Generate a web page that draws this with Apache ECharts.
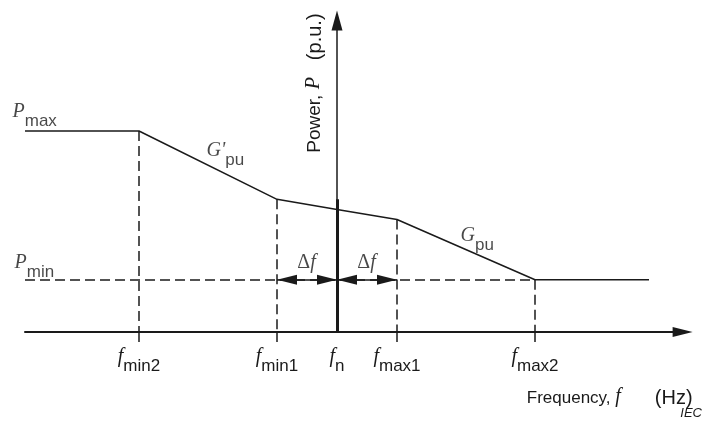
<!DOCTYPE html>
<html><head><meta charset="utf-8">
<script src="https://cdn.jsdelivr.net/npm/echarts@6/dist/echarts.min.js"></script>
<style>html,body{margin:0;padding:0;background:#fff}#c{width:705px;height:421px}</style>
</head><body><div id="c"></div>
<script>
// Frequencies expressed in units of the dead-band Δf, relative to f_n
const tickNames = ['min2', 'min1', 'n', 'max1', 'max2'];
const tickFreqs = [-3.3, -1, 0, 1, 3.3];
// Power characteristic (p.u.)
const curveFreqs = [-5.2, -3.3, -1, 0, 1, 3.3, 5.2];
const curvePowers = [1.0, 1.0, 0.66, 0.61, 0.56, 0.26, 0.26];
const pMax = 1.0;
const pMin = 0.26;
const fnMarkerTop = 0.66;
const xRange = [-5.2, 5.76];
const yRange = [0, 1.55];

const C = '#1a1a1a';
const SANS = '"Liberation Sans", Arial, sans-serif';
const SERIF = '"Liberation Serif", "Times New Roman", serif';

const rich = {
  v: {fontFamily: SERIF, fontStyle: 'italic', fontSize: 20, lineHeight: 22, verticalAlign: 'top', color: C},
  s: {fontFamily: SANS, fontSize: 17, lineHeight: 17, padding: [11, 0, 0, 0], verticalAlign: 'top', color: C},
  d: {fontFamily: SERIF, fontSize: 20, lineHeight: 22, verticalAlign: 'top', color: C},
  a: {fontFamily: SANS, fontSize: 17, lineHeight: 22, color: C},
  ay: {fontFamily: SANS, fontSize: 19, lineHeight: 22, color: C},
  ux: {fontFamily: SANS, fontSize: 20, lineHeight: 22, padding: [0, 0, 0, 34], color: C},
  uy: {fontFamily: SANS, fontSize: 20, lineHeight: 22, padding: [0, 0, 0, 17], color: C}
};

const powerAt = f => curvePowers[curveFreqs.indexOf(f)];
const dashSegments = [[[curveFreqs[0], pMin], [tickFreqs[4], pMin]]];
tickFreqs.forEach(f => { if (f !== 0) dashSegments.push([[f, powerAt(f)], [f, 0]]); });

const mid = (i) => [(curveFreqs[i] + curveFreqs[i + 1]) / 2, (curvePowers[i] + curvePowers[i + 1]) / 2];

const annotations = [
  {value: [curveFreqs[0], pMax], label: {formatter: '{v|P}{s|max}', offset: [-12, -29]}},
  {value: [curveFreqs[0], pMin], label: {formatter: '{v|P}{s|min}', offset: [-10, -26]}},
  {value: mid(1), label: {formatter: "{v|G'}{s|pu}", offset: [-1, -23.5]}},
  {value: mid(4), label: {formatter: '{v|G}{s|pu}', offset: [-5, -23]}},
  {value: [(tickFreqs[1] + tickFreqs[2]) / 2, pMin], label: {formatter: '{d|Δ}{v|f}', align: 'center', verticalAlign: 'bottom', offset: [0, -4]}},
  {value: [(tickFreqs[2] + tickFreqs[3]) / 2, pMin], label: {formatter: '{d|Δ}{v|f}', align: 'center', verticalAlign: 'bottom', offset: [0, -4]}}
];

const arrowEnd = (coord) => ({coord: coord, symbol: 'triangle', symbolSize: [10, 20], symbolOffset: [0, 10]});

const chart = echarts.init(document.getElementById('c'), null, {renderer: 'canvas'});
chart.setOption({
  animation: false,
  backgroundColor: '#fff',
  textStyle: {fontFamily: SANS, color: C},
  title: {
    text: 'IEC', right: 3, bottom: 1, padding: 0,
    textStyle: {fontFamily: SANS, fontStyle: 'italic', fontWeight: 'normal', fontSize: 13, color: C}
  },
  grid: {left: 25, right: 22.4, top: 20.45, bottom: 89, containLabel: false},
  xAxis: {
    type: 'value', min: xRange[0], max: xRange[1],
    axisLine: {show: true, onZero: true, symbol: ['none', 'triangle'], symbolSize: [10, 20], lineStyle: {color: C, width: 2}},
    axisTick: {show: true, customValues: tickFreqs.filter(f => f !== 0), length: 10, inside: false, lineStyle: {color: C, width: 1.5}},
    axisLabel: {
      show: true, customValues: tickFreqs, margin: 15, rich: rich,
      formatter: (val) => {
        const i = tickFreqs.findIndex(f => Math.abs(f - val) < 1e-6);
        return i < 0 ? '' : '{v|f}{s|' + tickNames[i] + '}';
      }
    },
    splitLine: {show: false},
    name: '{a|Frequency, }{v|f}{ux|(Hz)}', nameLocation: 'end', nameGap: 10, nameMoveOverlap: false,
    nameTextStyle: {align: 'right', verticalAlign: 'top', padding: [55, 0, 0, 0], rich: rich}
  },
  yAxis: {
    type: 'value', min: yRange[0], max: yRange[1],
    axisLine: {show: true, onZero: true, symbol: ['none', 'triangle'], symbolSize: [11, 20], lineStyle: {color: C, width: 1.5}},
    axisTick: {show: false}, axisLabel: {show: false}, splitLine: {show: false},
    name: '{ay|Power, }{v|P}{uy|(p.u.)}', nameLocation: 'end', nameGap: 7, nameRotate: 90, nameMoveOverlap: false,
    nameTextStyle: {align: 'right', verticalAlign: 'bottom', padding: [0, 0, 11, 0], rich: rich}
  },
  series: [
    {
      type: 'lines', coordinateSystem: 'cartesian2d', silent: true, z: 2,
      data: dashSegments.map(s => ({coords: s})),
      lineStyle: {color: C, width: 1.5, type: [10, 5], opacity: 1}
    },
    {
      type: 'lines', coordinateSystem: 'cartesian2d', silent: true, z: 4,
      data: [{coords: [[tickFreqs[2], 0], [tickFreqs[2], fnMarkerTop]]}],
      lineStyle: {color: C, width: 3, opacity: 1}
    },
    {
      type: 'line', silent: true, symbol: 'none', clip: false, z: 3,
      data: curveFreqs.map((f, i) => [f, curvePowers[i]]),
      lineStyle: {color: C, width: 1.5},
      markLine: {
        silent: true, animation: false,
        symbol: ['triangle', 'triangle'],
        label: {show: false},
        lineStyle: {color: C, width: 1.5, type: 'solid'},
        emphasis: {disabled: true},
        data: [
          [arrowEnd([tickFreqs[1], pMin]), arrowEnd([tickFreqs[2], pMin])],
          [arrowEnd([tickFreqs[2], pMin]), arrowEnd([tickFreqs[3], pMin])]
        ]
      }
    },
    {
      type: 'scatter', silent: true, clip: false, symbolSize: 1, z: 5,
      itemStyle: {color: 'rgba(0,0,0,0)'},
      label: {show: true, position: [0, 0], align: 'left', verticalAlign: 'top', color: C, rich: rich},
      data: annotations
    }
  ]
});
</script>
</body></html>
